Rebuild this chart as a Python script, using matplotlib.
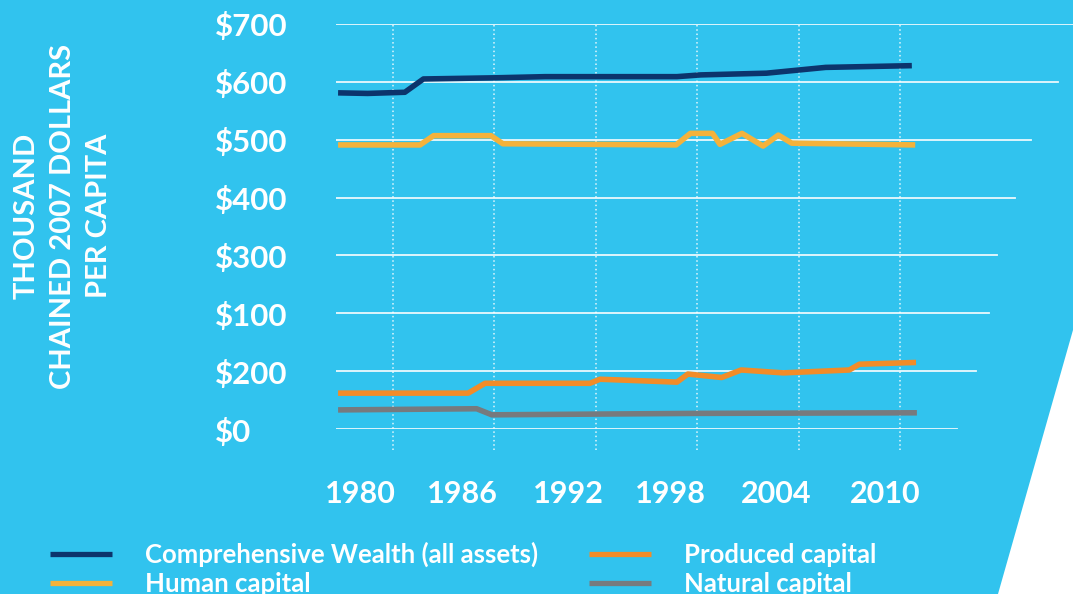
import matplotlib
matplotlib.use("Agg")
import matplotlib.pyplot as plt
from matplotlib.patches import Polygon
from matplotlib.lines import Line2D
from matplotlib import font_manager
import matplotlib.transforms as mtrans

# ---------------- data (thousand chained 2007 dollars per capita) -------------
wealth_years = [1978.75, 1980.5, 1982.7, 1983.8, 1988.0, 1991.0, 1998.8, 2000.2, 2004.1, 2007.6, 2012.7]
wealth_vals  = [581, 580, 582, 605, 607, 609, 609, 612, 615, 625, 628]

human_years = [1978.75, 1983.6, 1984.4, 1987.8, 1988.5, 1998.75, 1999.6, 2000.9, 2001.35,
               2002.65, 2003.9, 2004.8, 2005.6, 2012.9]
human_vals  = [491, 491, 507, 507, 493, 491, 511, 511, 492, 511, 489, 508, 494, 491]

produced_years = [1978.75, 1986.45, 1987.45, 1993.65, 1994.25, 1998.8, 1999.45, 2001.45,
                  2002.6, 2005.1, 2009.0, 2009.6, 2012.95]
produced_vals  = [62, 62, 79, 79, 86, 81, 95, 89, 102, 97, 102, 112, 115]

natural_years = [1978.75, 1986.95, 1987.85, 2000.0, 2013.0]
natural_vals  = [33, 35, 24.5, 27, 28]

series_labels = ["Comprehensive Wealth (all assets)", "Human capital",
                 "Produced capital", "Natural capital"]

ytick_vals   = [700, 600, 500, 400, 300, 200, 100, 0]
ytick_labels = ["$700", "$600", "$500", "$400", "$300", "$100", "$200", "$0"]
xtick_labels = ["1980", "1986", "1992", "1998", "2004", "2010"]
vgrid_years  = [1982, 1988, 1994, 2000, 2006, 2012]

y_title = "THOUSAND\nCHAINED 2007 DOLLARS\nPER CAPITA"

# ---------------- style ----------------
BG = "#31C3EE"
NAVY = "#0C346C"
YELLOW = "#F4B23B"
ORANGE = "#F28C28"
GRAY = "#777A7E"

avail = {f.name for f in font_manager.fontManager.ttflist}
FONT = "Lato" if "Lato" in avail else "DejaVu Sans"
plt.rcParams["font.family"] = [FONT, "DejaVu Sans"]
plt.rcParams["font.weight"] = "bold"

W, H = 1073, 594
fig = plt.figure(figsize=(W / 100, H / 100), dpi=100, facecolor=BG)

# white wedge bottom-right
fig.patches.append(Polygon([(998 / W, 0), (1.0, 0), (1.0, 1 - 330 / H)],
                           closed=True, transform=fig.transFigure,
                           facecolor="white", edgecolor="none", zorder=0))

left_px, right_px, top_px, bot_px = 336, 1073, 24, 429
ax = fig.add_axes([left_px / W, 1 - bot_px / H, (right_px - left_px) / W, (bot_px - top_px) / H])
ax.set_facecolor("none")
px_per_year = 16.9
x0 = 1982 + (left_px - 393) / px_per_year
x1 = 1982 + (right_px - 393) / px_per_year
ax.set_xlim(x0, x1)
ax.set_ylim(0, 700)
for s in ax.spines.values():
    s.set_visible(False)

# horizontal grid lines with a slanted right edge
grid_ends_px = [957, 976, 989, 997, 1015, 1031, 1058, 1073]  # for 0..700
for v, e in zip(range(0, 800, 100), grid_ends_px):
    ax.axhline(v, xmin=0, xmax=(e - left_px) / (right_px - left_px),
               color="white", lw=1.3, alpha=0.9, zorder=1)

# dotted vertical grid lines
ax.vlines(vgrid_years, -36, 700, colors="white", linestyles=(0, (1, 1.8)),
          lw=1.1, alpha=0.85, zorder=1, clip_on=False)

lw = 4.0
ax.plot(natural_years, natural_vals, color=GRAY, lw=lw, solid_capstyle="butt", zorder=3)
ax.plot(produced_years, produced_vals, color=ORANGE, lw=lw, solid_capstyle="butt", zorder=3)
ax.plot(human_years, human_vals, color=YELLOW, lw=lw, solid_capstyle="butt", zorder=3)
ax.plot(wealth_years, wealth_vals, color=NAVY, lw=lw, solid_capstyle="butt", zorder=3)

# y ticks
ax.set_yticks(ytick_vals)
ax.set_yticklabels(ytick_labels, fontsize=22.5, color="white", ha="left", va="center",
                   fontweight="bold")
ax.tick_params(axis="y", length=0, pad=(left_px - 215) * 0.72)
off = mtrans.ScaledTranslation(0, -3 / 100, fig.dpi_scale_trans)
for t in ax.get_yticklabels():
    t.set_transform(t.get_transform() + off)

# x ticks (label centres as in the original)
xtick_pos = [1980.05, 1986.1, 1992.4, 1998.4, 2004.7, 2011.15]
ax.set_xticks(xtick_pos)
ax.set_xticklabels(xtick_labels, fontsize=22, color="white", fontweight="bold")
ax.tick_params(axis="x", length=0, pad=(480 - bot_px) * 0.72)

# y-axis title
fig.text(63 / W, 1 - 216 / H, y_title, rotation=90, ha="center", va="center",
         ma="center", color="white", fontsize=21, linespacing=1.5, fontweight="bold")

# legend
handles = [Line2D([], [], color=c, lw=3.8, solid_capstyle="butt")
           for c in (NAVY, YELLOW, ORANGE, GRAY)]
leg = fig.legend(handles, series_labels, ncol=2, loc="upper left",
                 bbox_to_anchor=(50 / W, 1 - 542 / H), bbox_transform=fig.transFigure,
                 frameon=False, handlelength=2.41, handletextpad=1.28,
                 columnspacing=2.0, labelspacing=0.2, borderpad=0, borderaxespad=0,
                 prop={"family": [FONT, "DejaVu Sans"], "weight": "bold", "size": 18.5})
for t in leg.get_texts():
    t.set_color("white")

fig.savefig("out.png", dpi=100, facecolor=BG)
